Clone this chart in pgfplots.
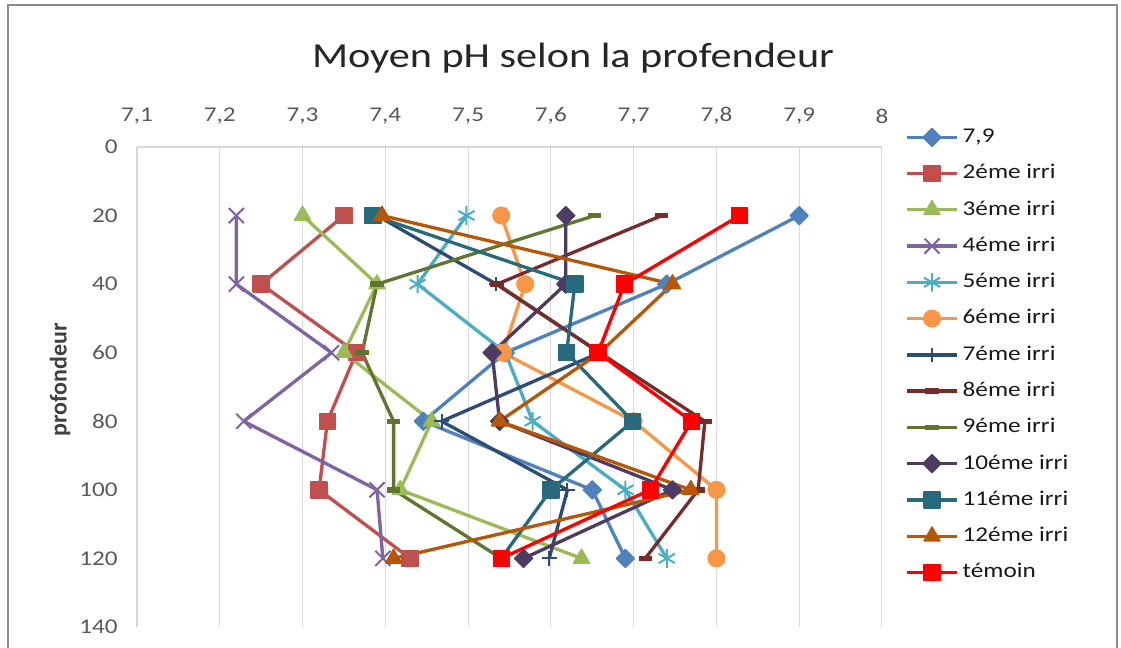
\documentclass[border=0pt]{standalone}
\usepackage{fontspec}
\setmainfont[FakeStretch=1.2]{Carlito}
\newfontfamily\ylfont{Carlito}
\usepackage{pgfplots}
\pgfplotsset{compat=1.18}
\definecolor{cA}{HTML}{4F81BD}
\definecolor{cB}{HTML}{C0504D}
\definecolor{cC}{HTML}{9BBB59}
\definecolor{cD}{HTML}{8064A2}
\definecolor{cE}{HTML}{4BACC6}
\definecolor{cF}{HTML}{F79646}
\definecolor{cG}{HTML}{2C4D75}
\definecolor{cH}{HTML}{772C2A}
\definecolor{cI}{HTML}{5F7530}
\definecolor{cJ}{HTML}{4D3B62}
\definecolor{cK}{HTML}{276A7C}
\definecolor{cL}{HTML}{B65708}
\definecolor{cM}{HTML}{FF0000}
\definecolor{gridc}{HTML}{D9D9D9}
\definecolor{tickc}{HTML}{595959}
\begin{document}
\begin{tikzpicture}
\useasboundingbox (0,0) rectangle (840.75pt,486pt);
\draw[black!45, line width=0.9pt] (6pt,-5pt) -- (6pt,482.25pt) -- (837.75pt,482.25pt) -- (837.75pt,-5pt);
\node[font=\fontsize{26.4}{31}\selectfont, text=black!85] at (429.75pt,442.5pt) {Moyen pH selon la profendeur};
\node[rotate=90, font=\ylfont\bfseries\fontsize{18}{20}\selectfont, text=black!75] at (45pt,201pt) {profondeur};
\begin{axis}[
  at={(102.75pt,15.75pt)}, anchor=south west,
  scale only axis, width=558.75pt, height=360pt,
  xmin=7.1, xmax=8, ymin=0, ymax=140, y dir=reverse,
  xtick={7.1,7.2,7.3,7.4,7.5,7.6,7.7,7.8,7.9,8},
  ytick={0,20,40,60,80,100,120,140},
  xticklabel pos=upper,
  /pgf/number format/use comma,
  /pgf/number format/assume math mode=true,
  xticklabel style={/pgf/number format/fixed, /pgf/number format/precision=1, yshift=13.75pt},
  yticklabel style={xshift=-11pt},
  tick label style={font=\fontsize{15.75}{18}\selectfont, text=tickc},
  major tick length=0pt,
  axis line style={draw=none},
  xmajorgrids, grid style={gridc, line width=0.75pt},
  clip=false,
  legend cell align=left,
  legend style={at={(1.031,1.043)}, anchor=north west, draw=none, fill=none,
    font=\fontsize{15.75}{18}\selectfont, text=black!90,
    row sep=11.2pt, column sep=2pt, inner sep=0pt,
    nodes={inner sep=1pt, text height=11pt, text depth=3pt}},
  legend image code/.code={\draw[mark repeat=2,mark phase=2] plot coordinates {(0pt,0pt) (18.75pt,0pt) (37.5pt,0pt)};},
  every axis plot/.append style={line width=2.5pt, line join=round},
]
\draw[gridc, line width=0.9pt] (axis cs:7.1,0) -- (axis cs:8,0);
\draw[gridc, line width=0.9pt] (axis cs:7.1,0) -- (axis cs:7.1,140);
\addplot[cA, mark=square*, mark options={solid, rotate=45, mark size=4.8pt, line width=1pt, fill=cA}]
  coordinates {(7.9,20)(7.74,40)(7.545,60)(7.446,80)(7.65,100)(7.69,120)};
\addlegendentry{7,9}
\addplot[cB, mark=square*, mark options={solid, mark size=6pt, line width=1pt, fill=cB}]
  coordinates {(7.35,20)(7.25,40)(7.365,60)(7.33,80)(7.32,100)(7.43,120)};
\addlegendentry{2éme irri}
\addplot[cC, mark=triangle*, mark options={solid, mark size=7pt, line width=1pt, fill=cC}]
  coordinates {(7.30,20)(7.39,40)(7.35,60)(7.456,80)(7.418,100)(7.637,120)};
\addlegendentry{3éme irri}
\addplot[cD, mark=x, mark options={solid, mark size=8pt, line width=1.5pt}]
  coordinates {(7.22,20)(7.22,40)(7.335,60)(7.229,80)(7.39,100)(7.397,120)};
\addlegendentry{4éme irri}
\addplot[cE, mark=asterisk, mark options={solid, mark size=7pt, line width=1.5pt}]
  coordinates {(7.498,20)(7.439,40)(7.545,60)(7.578,80)(7.69,100)(7.74,120)};
\addlegendentry{5éme irri}
\addplot[cF, mark=*, mark options={solid, mark size=6.5pt, line width=0.5pt, fill=cF}]
  coordinates {(7.54,20)(7.569,40)(7.542,60)(7.70,80)(7.80,100)(7.80,120)};
\addlegendentry{6éme irri}
\addplot[cG, mark=+, mark options={solid, mark size=5.5pt, line width=1.5pt}]
  coordinates {(7.39,20)(7.534,40)(7.659,60)(7.468,80)(7.62,100)(7.598,120)};
\addlegendentry{7éme irri}
\addplot[cH, mark=-, mark options={solid, mark size=5pt, line width=4pt}]
  coordinates {(7.734,20)(7.535,40)(7.659,60)(7.786,80)(7.778,100)(7.714,120)};
\addlegendentry{8éme irri}
\addplot[cI, mark=-, mark options={solid, mark size=5pt, line width=4pt}]
  coordinates {(7.653,20)(7.39,40)(7.372,60)(7.41,80)(7.41,100)(7.54,120)};
\addlegendentry{9éme irri}
\addplot[cJ, mark=square*, mark options={solid, rotate=45, mark size=4.8pt, line width=1pt, fill=cJ}]
  coordinates {(7.618,20)(7.618,40)(7.529,60)(7.538,80)(7.747,100)(7.567,120)};
\addlegendentry{10éme irri}
\addplot[cK, mark=square*, mark options={solid, mark size=6pt, line width=1pt, fill=cK}]
  coordinates {(7.385,20)(7.629,40)(7.619,60)(7.699,80)(7.60,100)(7.54,120)};
\addlegendentry{11éme irri}
\addplot[cL, mark=triangle*, mark options={solid, mark size=7pt, line width=1pt, fill=cL}]
  coordinates {(7.396,20)(7.747,40)(7.659,60)(7.538,80)(7.769,100)(7.41,120)};
\addlegendentry{12éme irri}
\addplot[cM, mark=square*, mark options={solid, mark size=6pt, line width=1pt, fill=cM}]
  coordinates {(7.828,20)(7.689,40)(7.657,60)(7.77,80)(7.72,100)(7.54,120)};
\addlegendentry{témoin}
\end{axis}
\end{tikzpicture}
\end{document}
